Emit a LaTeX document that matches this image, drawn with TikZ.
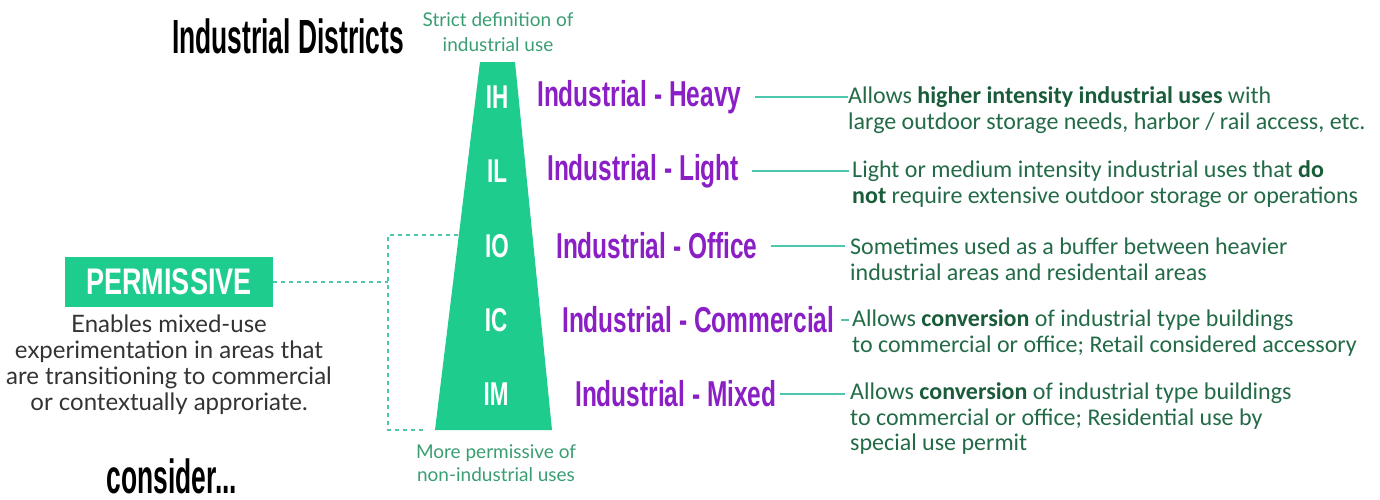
\documentclass[tikz,border=0pt]{standalone}
\usepackage{fontspec}
\setmainfont{Lato}
\newfontfamily\cond[FakeStretch=0.55]{Liberation Sans Bold}
\newfontfamily\condb[FakeStretch=0.68]{Liberation Sans Bold}
\newfontfamily\condc[FakeStretch=0.73]{Liberation Sans Bold}
\newfontfamily\desc{Carlito}
\definecolor{zgreen}{HTML}{1ECC8E}
\definecolor{zpurple}{HTML}{8B1FC6}
\definecolor{zteal}{HTML}{4CC6AC}
\definecolor{zdesc}{HTML}{236B47}
\definecolor{zbold}{HTML}{1A5C3A}
\definecolor{zsmall}{HTML}{3A9E72}
\definecolor{zgray}{HTML}{333333}
\tikzset{
  title/.style={font=\cond\fontsize{48}{50}\selectfont, text=black, inner sep=0pt},
  code/.style={font=\condb\fontsize{33}{34}\selectfont, text=white, inner sep=0pt},
  zone/.style={font=\condb\fontsize{36}{38}\selectfont, text=zpurple, inner sep=0pt, anchor=west},
  descr/.style={font=\desc\fontsize{24}{25.5}\selectfont, text=zdesc, inner sep=0pt, anchor=west, align=left},
  small/.style={font=\fontsize{19}{24}\selectfont, text=zsmall, inner sep=0pt, align=center},
  link/.style={draw=zteal, line width=1.6pt},
  dlink/.style={draw=zteal, line width=1.6pt, dash pattern=on 4pt off 4pt},
}
\begin{document}
\begin{tikzpicture}[x=1pt,y=-1pt]
\useasboundingbox (0,0) rectangle (1380,499);
% title
\node[title] (ttl) at (288,36) {Industrial Districts};
\node[small, font=\fontsize{19}{25}\selectfont] (strict) at (498,32) {Strict definition of\\industrial use};
% trapezoid
\coordinate (tl) at (480,62);
\coordinate (tr) at (515,62);
\coordinate (br) at (552,430);
\coordinate (bl) at (435,430);
\fill[zgreen] (tl) -- (tr) -- (br) -- (bl) -- cycle;
\node[code] (ih) at (497,97) {IH};
\node[code] (il) at (497,171) {IL};
\node[code] (io) at (497,246) {IO};
\node[code] (ic) at (496,320) {IC};
\node[code] (im) at (496,394) {IM};
\node[small, font=\fontsize{19}{23}\selectfont] (more) at (496,463) {More permissive of\\non-industrial uses};
% zone names
\node[zone] (zh) at (537,97) {Industrial - Heavy};
\node[zone] (zl) at (547,171) {Industrial - Light};
\node[zone] (zo) at (556,246) {Industrial - Office};
\node[zone] (zc) at (562,320) {Industrial - Commercial};
\node[zone] (zm) at (575,394) {Industrial - Mixed};
% descriptions
\node[descr] (dh) at (848,110) {Allows {\bfseries\color{zbold}higher intensity industrial uses} with\\large outdoor storage needs, harbor / rail access, etc.};
\node[descr] (dl) at (852,184) {Light or medium intensity industrial uses that {\bfseries\color{zbold}do}\\{\bfseries\color{zbold}not} require extensive outdoor storage or operations};
\node[descr] (do) at (850,259) {Sometimes used as a buffer between heavier\\industrial areas and residentail areas};
\node[descr] (dc) at (852,333) {Allows {\bfseries\color{zbold}conversion} of industrial type buildings\\to commercial or office; Retail considered accessory};
\node[descr] (dm) at (850,419) {Allows {\bfseries\color{zbold}conversion} of industrial type buildings\\to commercial or office; Residential use by\\special use permit};
% connectors
\draw[link] ([xshift=14pt]zh.east) -- (dh.west |- zh.east);
\draw[link] ([xshift=13pt]zl.east) -- ([xshift=-3pt]dl.west |- zl.east);
\draw[link] ([xshift=13pt]zo.east) -- ([xshift=-5pt]do.west |- zo.east);
\draw[link] ([xshift=7pt]zc.east) -- ([xshift=-3pt]dc.west |- zc.east);
\draw[link] ([xshift=3pt]zm.east) -- ([xshift=-5pt]dm.west |- zm.east);
% permissive
\node[fill=zgreen, minimum width=208pt, minimum height=50pt, inner sep=0pt,
      font=\condc\fontsize{37}{38}\selectfont, text=white] (perm) at (169,282) {PERMISSIVE};
\node[font=\fontsize{24}{26}\selectfont, text=zgray, align=center, inner sep=0pt, anchor=north] (pdesc) at (169,315)
  {Enables mixed-use\\experimentation in areas that\\are transitioning to commercial\\or contextually approriate.};
\node[title, anchor=base] (cons) at (172,493) {consider...};
% dashed bracket
\coordinate (jn) at (388,282);
\coordinate (jt) at (388,235);
\coordinate (jb) at (388,430);
\coordinate (et) at (458,235);
\coordinate (eb) at (425,430);
\draw[dlink] (perm.east) -- (jn);
\draw[dlink] (et) -- (jt) -- (jb) -- (eb);
\end{tikzpicture}
\end{document}
